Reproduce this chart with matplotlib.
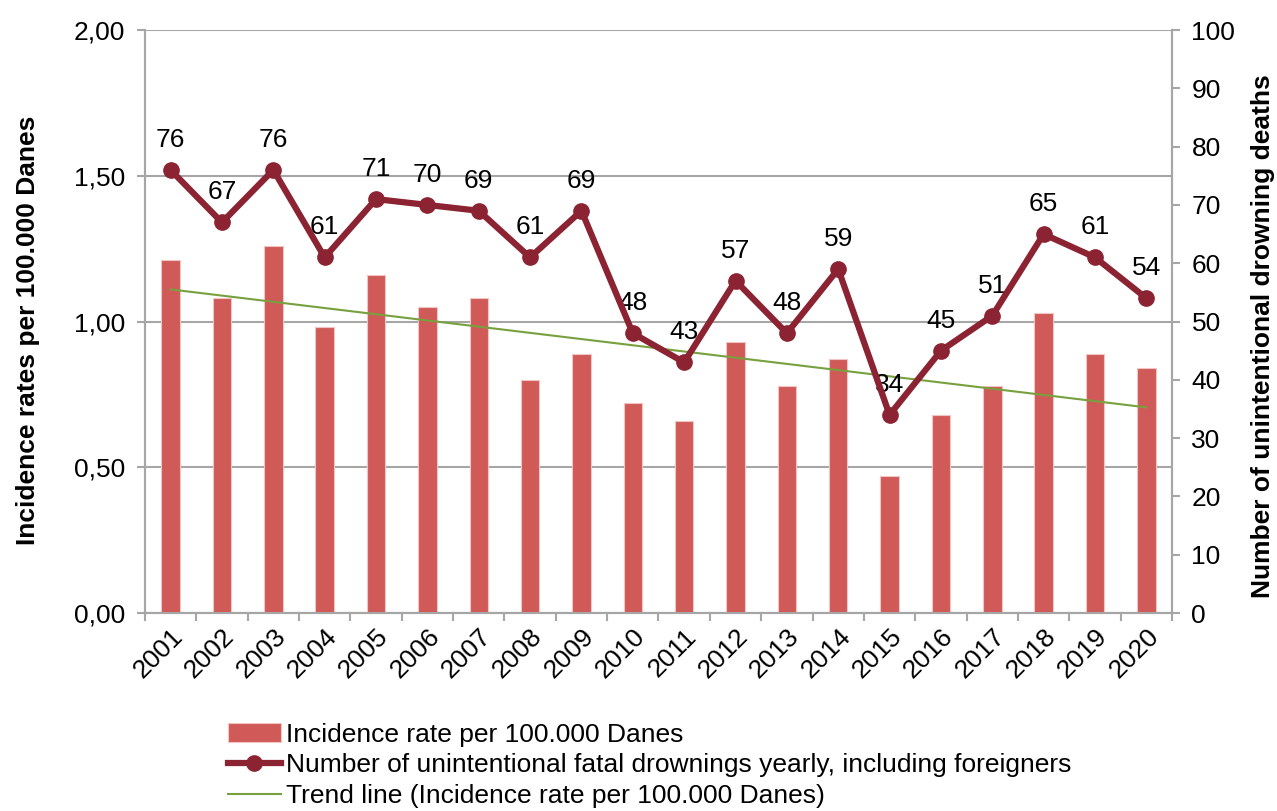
import numpy as np
import matplotlib.pyplot as plt
from matplotlib.ticker import FuncFormatter, FixedLocator

plt.rcParams['font.family'] = ['Liberation Sans', 'DejaVu Sans']

years = [str(y) for y in range(2001, 2021)]
incidence = [1.21, 1.08, 1.26, 0.98, 1.16, 1.05, 1.08, 0.80, 0.89, 0.72,
             0.66, 0.93, 0.78, 0.87, 0.47, 0.68, 0.78, 1.03, 0.89, 0.84]
deaths = [76, 67, 76, 61, 71, 70, 69, 61, 69, 48,
          43, 57, 48, 59, 34, 45, 51, 65, 61, 54]

bar_color = '#D05A57'
line_color = '#8B2332'
trend_color = '#77A03F'
grid_color = '#A6A6A6'
fs = 19

fig = plt.figure(figsize=(12.77, 8.11), dpi=100)
ax = fig.add_axes([0.1135, 0.244, 0.9178 - 0.1135, 0.963 - 0.244])
ax2 = ax.twinx()

x = np.arange(len(years))

# bars on the left axis
ax.bar(x, incidence, width=0.36, color=bar_color, edgecolor='#F2C4C3',
       linewidth=0.8, zorder=3, label='Incidence rate per 100.000 Danes')

# linear trend of the incidence rate
slope, intercept = np.polyfit(x, incidence, 1)
trend = slope * x + intercept
ax.plot(x, trend, color=trend_color, linewidth=1.5, zorder=4,
        label='Trend line (Incidence rate per 100.000 Danes)')

ax.set_ylim(0, 2.0)
ax.set_xlim(-0.5, len(years) - 0.5)
ax.set_yticks([0, 0.5, 1.0, 1.5, 2.0])
ax.yaxis.set_major_formatter(FuncFormatter(lambda v, p: f'{v:.2f}'.replace('.', ',')))
ax.yaxis.grid(True, color=grid_color, linewidth=1.5, zorder=0)
ax.set_axisbelow(True)

# ticks between categories, labels under categories
ax.xaxis.set_major_locator(FixedLocator(np.arange(-0.5, len(years), 1.0)))
ax.xaxis.set_major_formatter(FuncFormatter(lambda v, p: ''))
ax.set_xticks(x, minor=True)
ax.set_xticklabels(years, minor=True, rotation=45, ha='right', va='top',
                   rotation_mode='anchor', fontsize=fs)
ax.tick_params(axis='x', which='minor', length=0, pad=8)
ax.tick_params(axis='x', which='major', length=6, color=grid_color, width=1.5)
ax.tick_params(axis='y', length=6, color=grid_color, width=1.5, labelsize=fs, pad=8)

ax.set_ylabel('Incidence rates per 100.000 Danes', fontsize=fs, fontweight='bold', va='center')
ax.yaxis.set_label_coords(-0.114, 0.485)

# deaths line on the right axis
ax2.plot(x, deaths, color=line_color, linewidth=4.5, marker='o', markersize=11,
         zorder=5, label='Number of unintentional fatal drownings yearly, including foreigners')
for xi, d in zip(x, deaths):
    ax2.annotate(str(d), (xi, d), xytext=(0, 13), textcoords='offset points',
                 ha='center', va='bottom', fontsize=fs)
ax2.set_ylim(0, 100)
ax2.set_yticks(range(0, 101, 10))
ax2.tick_params(axis='y', length=6, color=grid_color, width=1.5, labelsize=fs, pad=8)
ax2.set_ylabel('Number of unintentional drowning deaths', fontsize=fs, fontweight='bold',
               va='center')
ax2.yaxis.set_label_coords(1.0886, 0.475)

for a in (ax, ax2):
    for side in ('left', 'right', 'bottom'):
        a.spines[side].set_color(grid_color)
        a.spines[side].set_linewidth(1.5)
    a.spines['top'].set_visible(False)

h1, l1 = ax.get_legend_handles_labels()
h2, l2 = ax2.get_legend_handles_labels()
handles = [h1[1], h2[0], h1[0]]
labels = [l1[1], l2[0], l1[0]]
fig.legend(handles, labels, loc='upper left', bbox_to_anchor=(0.168, 0.125),
           frameon=False, fontsize=fs, handlelength=2.0, handletextpad=0.2,
           labelspacing=0.25, borderpad=0)

fig.savefig('out.png', dpi=100)
